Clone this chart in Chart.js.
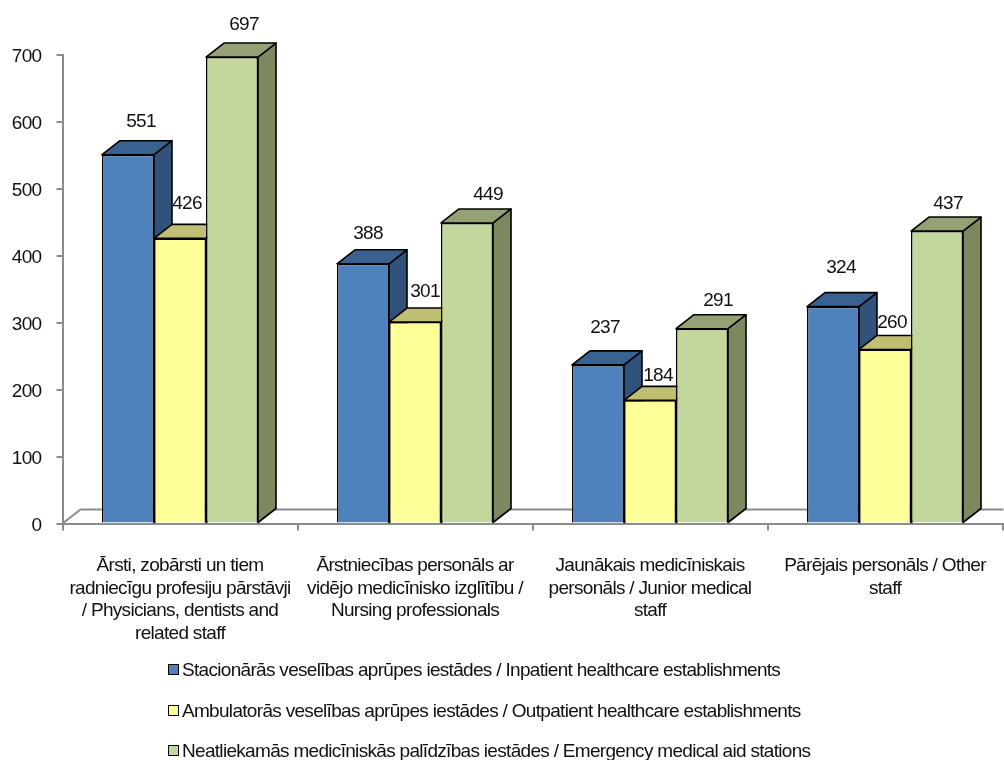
<!DOCTYPE html>
<html>
<head>
<meta charset="utf-8">
<script src="https://cdn.jsdelivr.net/npm/chart.js@4"></script>
<style>
    body { margin: 0; background: #ffffff; }
    #wrap { position: relative; width: 1004px; height: 760px; overflow: hidden; }
    #legend { position: absolute; left: 168px; top: 0; font: 19px 'Liberation Sans', Arial, sans-serif; letter-spacing: -0.69px; color: #111; }
    #legend div { position: absolute; white-space: nowrap; }
    #legend span { position: absolute; left: 0; top: 5px; width: 9px; height: 9px; border: 1.5px solid #000; }
    #legend b { position: absolute; left: 14px; top: 0; font-weight: normal; }
</style>
</head>
<body>
<div id="wrap">
    <canvas id="chart" width="1004" height="760"></canvas>
    <div id="legend"></div>
</div>
<script>
const categories = [
    ['Ārsti, zobārsti un tiem', 'radniecīgu profesiju pārstāvji', '/ Physicians, dentists and', 'related staff'],
    ['Ārstniecības personāls ar', 'vidējo medicīnisko izglītību /', 'Nursing professionals'],
    ['Jaunākais medicīniskais', 'personāls / Junior medical', 'staff'],
    ['Pārējais personāls / Other', 'staff']
];
const inpatient = [551, 388, 237, 324];
const outpatient = [426, 301, 184, 260];
const emergency = [697, 449, 291, 437];
const seriesNames = [
    'Stacionārās veselības aprūpes iestādes / Inpatient healthcare establishments',
    'Ambulatorās veselības aprūpes iestādes / Outpatient healthcare establishments',
    'Neatliekamās medicīniskās palīdzības iestādes / Emergency medical aid stations'
];
const yTicks = [0, 100, 200, 300, 400, 500, 600, 700];

// look of the fake 3d boxes
const depthX = 18;
const depthY = 14;
const frontColors = ['#4f81bd', '#ffff99', '#c3d69b'];
const topColors = ['#3a6290', '#bfbf73', '#93a174'];
const sideColors = ['#31527b', '#bfbf73', '#7c8860'];
const axisGray = '#8c8c8c';
const fontName = "'Liberation Sans', Arial, sans-serif";
const textSpacing = '-0.69px';

// the value labels do not sit on a regular offset in the original
const labelNudge = [
    [[13, -34], [5, -31], [7, -38], [8, -40]],
    [[7, -36], [10, -31], [8, -26], [7, -28]],
    [[12, -33], [21, -29], [16, -29], [11, -28]]
];

function face(ctx, points, color) {
    ctx.beginPath();
    points.forEach((p, i) => i ? ctx.lineTo(p[0], p[1]) : ctx.moveTo(p[0], p[1]));
    ctx.closePath();
    ctx.fillStyle = color;
    ctx.fill();
    ctx.stroke();
}

const floorAndBoxes = {
    id: 'floorAndBoxes',
    beforeDatasetsDraw(chart) {
        const ctx = chart.ctx;
        const area = chart.chartArea;
        const y0 = chart.scales.y.getPixelForValue(0);
        ctx.save();
        ctx.strokeStyle = axisGray;
        ctx.lineWidth = 2;
        ctx.beginPath();
        ctx.moveTo(area.left, y0);
        ctx.lineTo(area.left + depthX, y0 - depthY);
        ctx.lineTo(area.right + 1, y0 - depthY);
        ctx.stroke();

        // sides and tops go under all of the front faces
        ctx.strokeStyle = '#000000';
        ctx.lineWidth = 1.6;
        ctx.lineJoin = 'round';
        chart.data.datasets.forEach((ds, i) => {
            chart.getDatasetMeta(i).data.forEach(bar => {
                const l = bar.x - bar.width / 2;
                const r = bar.x + bar.width / 2;
                face(ctx, [[r, bar.base], [r + depthX, bar.base - depthY], [r + depthX, bar.y - depthY], [r, bar.y]], sideColors[i]);
                face(ctx, [[l, bar.y], [l + depthX, bar.y - depthY], [r + depthX, bar.y - depthY], [r, bar.y]], topColors[i]);
            });
        });
        ctx.restore();
    }
};

const labelPlugin = {
    id: 'valueLabels',
    beforeDraw(chart) {
        chart.ctx.letterSpacing = textSpacing;
    },
    afterDatasetsDraw(chart) {
        const ctx = chart.ctx;
        ctx.save();
        ctx.font = '19px ' + fontName;
        ctx.fillStyle = '#111111';
        ctx.textAlign = 'center';
        ctx.textBaseline = 'middle';
        chart.data.datasets.forEach((ds, i) => {
            chart.getDatasetMeta(i).data.forEach((bar, j) => {
                ctx.fillText(String(ds.data[j]), bar.x + labelNudge[i][j][0], bar.y + labelNudge[i][j][1] + 1);
            });
        });
        ctx.restore();
    }
};

function makeDataset(name, values, i) {
    return {
        label: name,
        data: values,
        backgroundColor: frontColors[i],
        borderColor: '#000000',
        borderWidth: 1.5,
        categoryPercentage: 0.664,
        barPercentage: 1
    };
}

const chart = new Chart(document.getElementById('chart'), {
    type: 'bar',
    data: {
        labels: categories,
        datasets: [
            makeDataset(seriesNames[0], inpatient, 0),
            makeDataset(seriesNames[1], outpatient, 1),
            makeDataset(seriesNames[2], emergency, 2)
        ]
    },
    plugins: [floorAndBoxes, labelPlugin],
    options: {
        responsive: false,
        animation: false,
        layout: { padding: { top: 55, right: 1.5, left: 0, bottom: 0 } },
        plugins: {
            legend: { display: false },
            tooltip: { enabled: false }
        },
        scales: {
            x: {
                offset: true,
                afterFit: scale => {
                    scale.height = 236.5;
                    scale.paddingLeft = 0;
                    scale.paddingRight = 0;
                },
                grid: { offset: true, drawOnChartArea: false, color: axisGray, lineWidth: 2, tickLength: 7 },
                border: { color: axisGray, width: 2 },
                ticks: {
                    autoSkip: false,
                    maxRotation: 0,
                    minRotation: 0,
                    padding: 24,
                    color: '#111111',
                    font: { family: fontName, size: 19, lineHeight: 1.19 }
                }
            },
            y: {
                min: 0,
                max: 700,
                afterFit: scale => { scale.width = 62.5; },
                afterBuildTicks: scale => { scale.ticks = yTicks.map(v => ({ value: v })); },
                grid: { drawOnChartArea: false, color: axisGray, lineWidth: 2, tickLength: 6 },
                border: { color: axisGray, width: 2 },
                ticks: {
                    padding: 15,
                    labelOffset: 2,
                    color: '#111111',
                    font: { family: fontName, size: 19 }
                }
            }
        }
    }
});

const legendRows = [659, 700, 740];
const legendBox = document.getElementById('legend');
chart.data.datasets.forEach((ds, i) => {
    const row = document.createElement('div');
    row.style.top = legendRows[i] + 'px';
    const swatch = document.createElement('span');
    swatch.style.background = ds.backgroundColor;
    const text = document.createElement('b');
    text.textContent = ds.label;
    row.appendChild(swatch);
    row.appendChild(text);
    legendBox.appendChild(row);
});
</script>
</body>
</html>
